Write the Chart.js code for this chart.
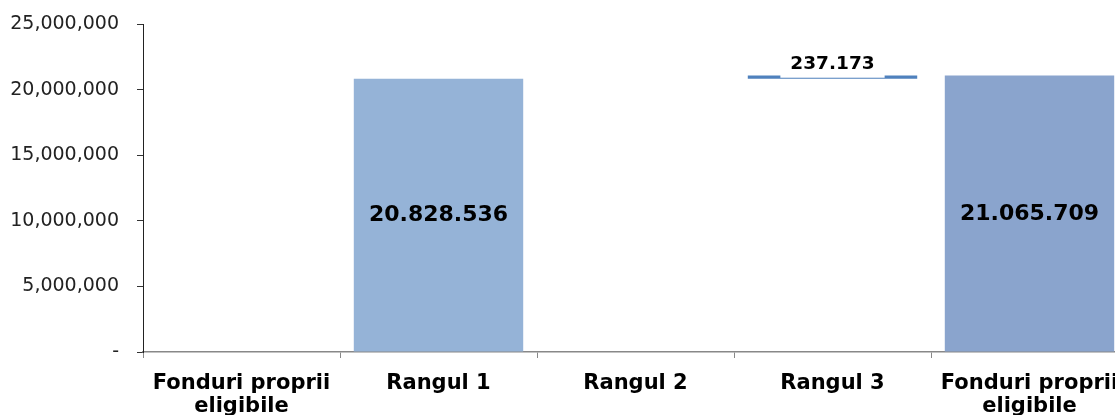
<!DOCTYPE html>
<html>
<head>
<meta charset="utf-8">
<script src="https://cdn.jsdelivr.net/npm/chart.js@4"></script>
<style>
  html, body { margin: 0; padding: 0; background: #fff; overflow: hidden; }
  #wrap { width: 1130px; height: 415px; position: relative; }
</style>
</head>
<body>
<div id="wrap"><canvas id="c"></canvas></div>
<script>
// ---- data ----
const categories = [["Fonduri proprii", "eligibile"], "Rangul 1", "Rangul 2", "Rangul 3", ["Fonduri proprii", "eligibile"]];
const barBase   = [null, 0, null, 20828536, 0];
const barValue  = [null, 20828536, null, 237173, 21065709];
const valueLabels = ["", "20.828.536", "", "237.173", "21.065.709"];
const yTicks = [0, 5000000, 10000000, 15000000, 20000000, 25000000];
const barColors = ["#95B3D7", "#95B3D7", "#4F81BD", "#4F81BD", "#8AA4CD"];

const ranges = barBase.map((b, i) => b === null ? null : [b, b + barValue[i]]);

const labelPlugin = {
  id: 'valueLabels',
  afterDatasetsDraw(chart) {
    const ctx = chart.ctx;
    const meta = chart.getDatasetMeta(0);
    const y = chart.scales.y;
    ctx.save();
    ctx.textAlign = 'center';
    ctx.textBaseline = 'middle';
    meta.data.forEach((el, i) => {
      const t = valueLabels[i];
      if (!t || !ranges[i]) return;
      const x = el.x;
      if (i === 3) {
        ctx.font = 'bold 18.5px "DejaVu Sans", Verdana, sans-serif';
        const w = ctx.measureText(t).width;
        const topPx = y.getPixelForValue(ranges[i][1]);
        const bottomPx = y.getPixelForValue(ranges[i][0]);
        const cy = topPx - 11;
        ctx.fillStyle = '#ffffff';
        ctx.fillRect(x - w / 2 - 10, cy - 14, w + 20, bottomPx - 1 - (cy - 14));
        ctx.fillStyle = '#000000';
        ctx.fillText(t, x, cy);
      } else {
        ctx.font = 'bold 22px "DejaVu Sans", Verdana, sans-serif';
        const cy = (y.getPixelForValue(ranges[i][0]) + y.getPixelForValue(ranges[i][1])) / 2;
        ctx.fillStyle = '#000000';
        ctx.fillText(t, x, cy);
      }
    });
    ctx.restore();
  }
};

new Chart(document.getElementById('c'), {
  type: 'bar',
  data: {
    labels: categories,
    datasets: [{
      data: ranges,
      backgroundColor: barColors,
      borderWidth: 0,
      barPercentage: 0.86,
      categoryPercentage: 1.0
    }]
  },
  options: {
    responsive: true,
    maintainAspectRatio: false,
    animation: false,
    layout: { padding: { top: 24, right: 2, left: 0, bottom: 0 } },
    plugins: { legend: { display: false }, tooltip: { enabled: false } },
    scales: {
      x: {
        afterFit(s) { s.height = 63; s.paddingLeft = 0; s.paddingRight = 0; },
        grid: { drawOnChartArea: false, offset: true, tickLength: 6, color: '#888888', tickColor: '#888888' },
        border: { color: '#888888', width: 1.5 },
        ticks: {
          color: '#000000',
          padding: 15,
          maxRotation: 0,
          autoSkip: false,
          font: { family: '"DejaVu Sans", Verdana, sans-serif', size: 21, weight: 'bold', lineHeight: 1.05 }
        }
      },
      y: {
        min: 0, max: 25000000,
        afterFit(s) { s.width = 143; s.paddingTop = 0; s.paddingBottom = 0; },
        afterBuildTicks(s) { s.ticks = yTicks.map(v => ({ value: v })); },
        grid: { drawOnChartArea: false, tickLength: 6, color: '#000000', tickColor: '#333333' },
        border: { color: '#222222', width: 1 },
        ticks: {
          color: '#222222',
          padding: 18,
          font: { family: '"DejaVu Sans", Verdana, sans-serif', size: 19 },
          callback: v => v === 0 ? '-' : v.toLocaleString('en-US')
        }
      }
    }
  },
  plugins: [labelPlugin]
});
</script>
</body>
</html>
